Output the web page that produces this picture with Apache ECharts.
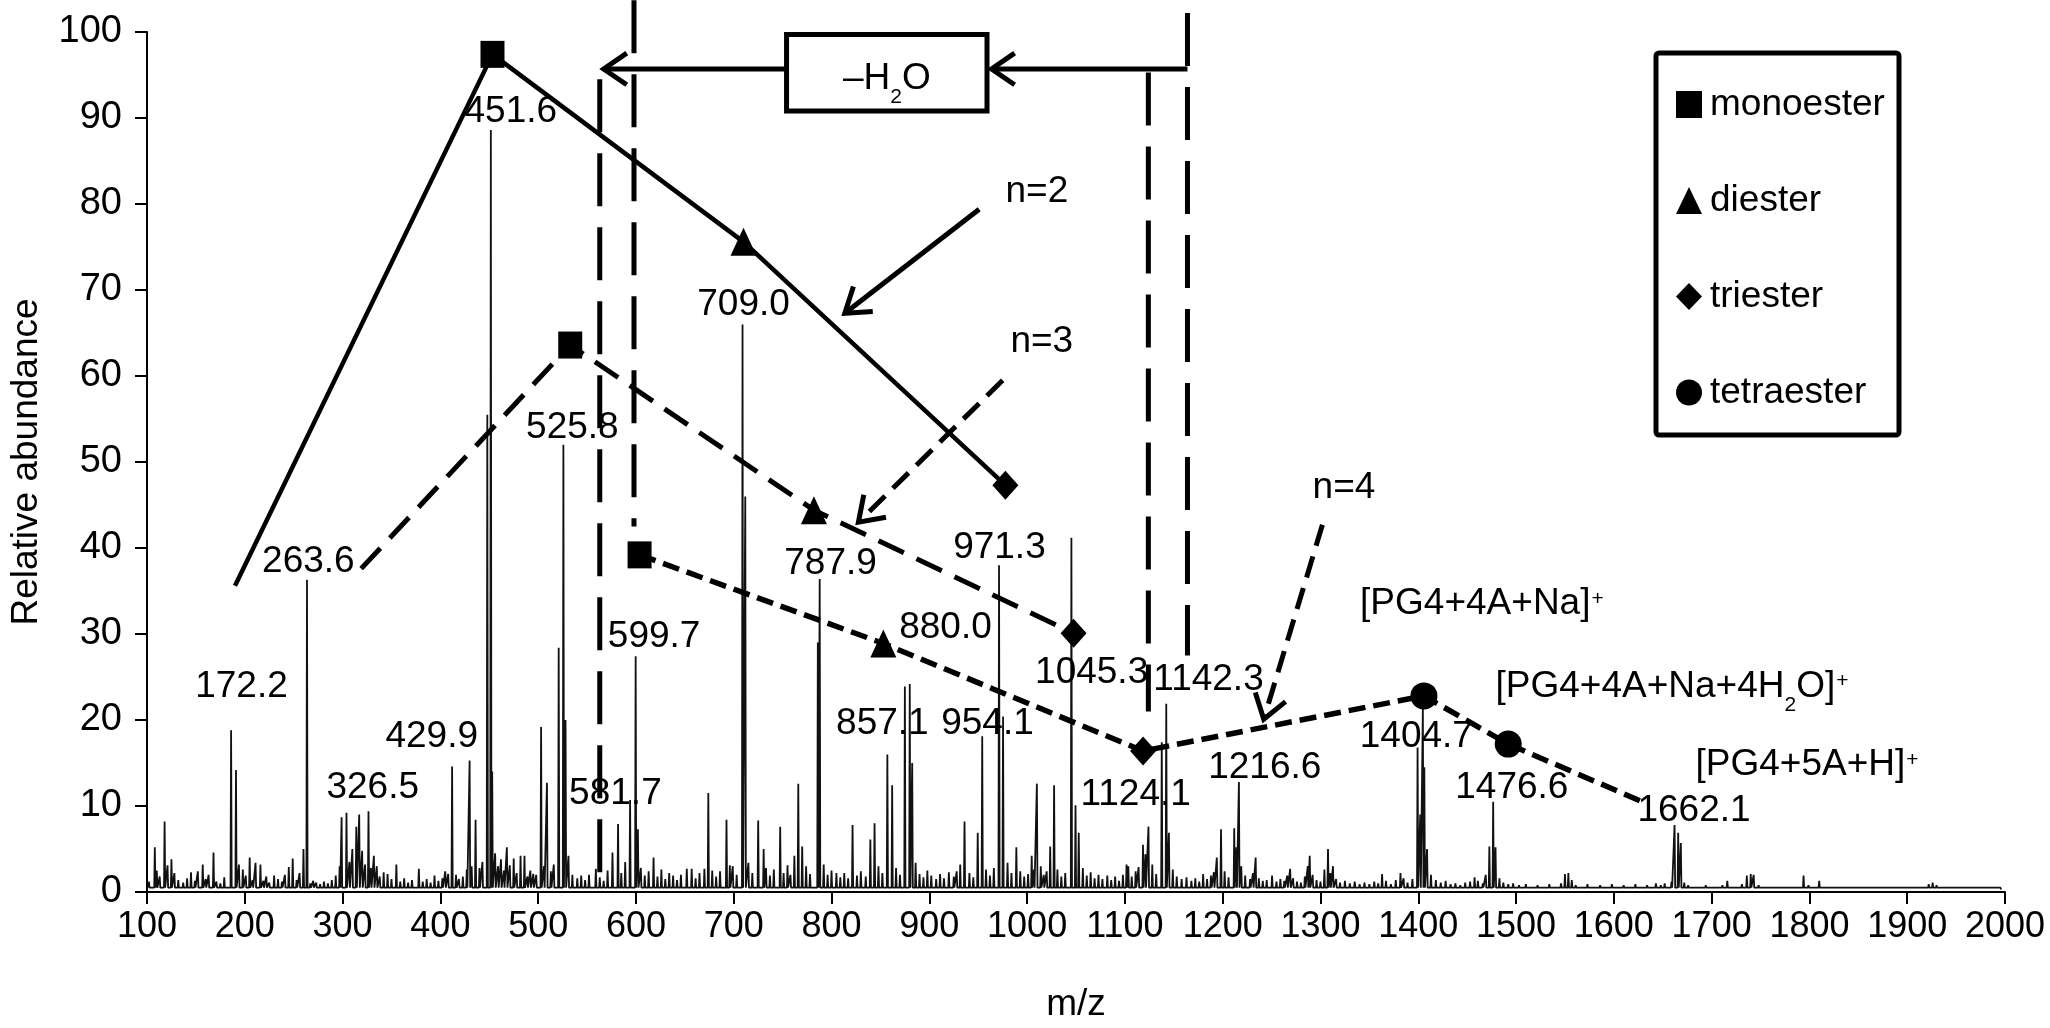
<!DOCTYPE html>
<html><head><meta charset="utf-8">
<script src="https://cdn.jsdelivr.net/npm/echarts@6/dist/echarts.min.js"></script>
<style>html,body{margin:0;padding:0;background:#fff}#c{width:2050px;height:1028px}</style>
</head><body><div id="c"></div><script>
const FONT = '"Liberation Sans", Arial, Helvetica, sans-serif';
const INK = '#000';

// major / medium peaks [m/z, relative abundance]
const peaks = [[108,5.2],[118,8.2],[125,3.8],[145,2.3],[157,3.2],[168,4.6],[186,18.8],[191,14.2],[194,3.2],[205,4],[211,3.4],[216,3.2],[230,1.9],[245,2.9],[249,3.9],[260,5],[263.6,36.3],[273,1.1],[297,3],[299,8.7],[304,9.2],[314,7.6],[317,9],[326.5,9.4],[332,4.2],[342,2.3],[355,3.2],[378,2.7],[394,1.9],[408,2.1],[412,14.6],[429.9,15.3],[436,8.4],[448,55.5],[451.6,88.6],[453,14],[462,3.8],[468,5.2],[475,3.9],[482,4.2],[486,4.2],[495,2.1],[503,19.2],[509,12.7],[521,28.4],[525.8,52],[528,20],[559,2.7],[576,4.6],[581.7,7.9],[594,10.7],[599.7,27.4],[602,7.3],[618,4],[634,2.2],[652,2.7],[657,2.7],[670,2.7],[674,11.5],[692.6,8.4],[699,3],[709.0,66],[711.8,46],[725,8.3],[730.6,5],[747.5,7.6],[762,4.2],[766,12.6],[770,5.3],[786,29],[787.9,36.4],[805,2.2],[821.5,7.8],[839.7,6.1],[844,8],[857.1,16],[862,12.4],[875,23.9],[880.0,24.2],[882.5,15],[898,2.5],[920,2.3],[931.6,3.2],[936,8.2],[949.5,6.9],[954.1,18.1],[971.3,38],[975.4,20.4],[989,5.2],[1004.7,4.2],[1010,12.6],[1023.6,5.3],[1027.6,12.4],[1045.3,41.2],[1049.5,10.1],[1052.8,6.9],[1101.7,3.2],[1103.5,3],[1118.5,5.5],[1124.1,7.6],[1137.7,17.4],[1142.3,21.9],[1145,6.9],[1180,2.1],[1194,4],[1198.3,7.3],[1211.8,7.4],[1216.6,12.8],[1233.7,4],[1250.5,1.9],[1269,2.7],[1287,3],[1289,4.2],[1307.7,5],[1312.8,3],[1363,2.1],[1381.8,2.2],[1399.3,16.8],[1404.7,21.4],[1406.2,14.5],[1457.6,1.7],[1472.7,5.3],[1476.6,10.5],[1479,5.2],[1550,2.1],[1553.5,2.2],[1643,1],[1662.1,7.8],[1665.8,6.9],[1668.5,5.7],[1716,1.3],[1736,1.9],[1740,2.1],[1743,2],[1794,1.9],[1810,1.3],[1926,1.1]];

// small background peaks [m/z, relative abundance]
const noise = [[102,1.2],[110,2.5],[113,1.8],[121,3.1],[128,2.2],[132,1.4],[137,1.1],[141,1.6],[149,1.3],[152,2.4],[160,1.5],[163,2.0],[171,1.2],[175,1.0],[179,1.7],[198,2.6],[201,1.9],[208,1.4],[219,1.3],[222,1.8],[225,1.1],[234,1.5],[238,1.2],[241,2.0],[253,1.4],[256,2.2],[267,1.0],[270,1.3],[277,0.9],[281,1.2],[285,1.0],[289,1.4],[293,1.9],
[307,3.5],[310,5.0],[320,4.8],[323,3.2],[329,2.8],[335,3.0],[338,1.8],[346,2.1],[350,1.5],[359,1.2],[363,1.6],[367,1.1],[371,1.4],[382,1.2],[386,1.5],[390,1.1],[398,1.3],[402,1.6],[405,2.4],[416,2.0],[419,1.5],[423,1.8],[427,2.6],[432,3.0],[440,2.8],[443,3.5],[456,4.5],[459,3.0],[465,2.5],[471,3.1],[478,2.2],[489,1.8],[492,2.5],[498,2.0],[506,3.0],[513,2.4],[516,3.2],
[531,4.2],[535,2.0],[540,1.6],[544,1.9],[548,1.4],[552,2.0],[563,1.7],[567,1.3],[571,2.5],[585,2.2],[589,3.5],[605,2.8],[609,1.9],[613,2.4],[622,1.8],[626,2.6],[630,1.5],[638,1.9],[642,1.4],[646,2.0],[661,1.6],[665,2.2],[678,2.5],[682,1.8],[686,2.4],[696,3.1],[703,2.0],[715,3.4],[719,2.2],
[733,2.8],[737,1.9],[741,2.6],[751,2.2],[755,3.1],[758,2.0],[774,3.0],[778,2.1],[792,3.2],[796,2.0],[800,2.5],[809,1.7],[813,2.2],[817,1.6],[826,1.9],[830,2.4],[835,1.8],[848,3.0],[852,2.2],[866,2.8],[870,2.0],[886,3.4],[890,2.1],[894,1.7],[902,1.9],[907,1.5],[911,2.1],[915,1.6],[925,1.8],[928,2.4],[941,2.2],[945,1.7],[958,2.6],[962,1.9],[966,2.8],[980,3.4],[984,2.2],[993,2.4],[997,1.8],
[1001,2.1],[1007,2.6],[1014,3.0],[1017,2.0],[1020,2.4],[1031,2.6],[1035,1.8],[1039,2.2],[1057,2.8],[1061,1.9],[1065,2.3],[1069,1.6],[1073,2.0],[1077,1.5],[1082,1.9],[1086,1.4],[1090,1.8],[1094,1.3],[1098,2.0],[1107,1.8],[1111,2.4],[1114,2.9],[1121,4.4],[1128,3.2],[1132,2.1],[1149,2.6],[1153,1.8],[1158,1.5],[1163,1.7],[1168,1.3],[1172,1.6],[1176,1.2],[1184,1.5],[1188,1.9],[1191,2.3],[1202,2.4],[1206,1.7],[1214,5.2],[1219,3.0],[1223,1.9],
[1228,1.5],[1231,2.2],[1237,1.6],[1241,1.3],[1245,1.4],[1255,1.2],[1259,1.5],[1263,1.3],[1266,1.9],[1272,1.6],[1276,1.2],[1280,1.1],[1284,1.8],[1292,2.0],[1296,1.4],[1300,1.2],[1304,2.6],[1310,2.2],[1316,1.5],[1320,1.1],[1325,1.3],[1330,1.0],[1335,1.2],[1340,0.9],[1345,1.1],[1350,0.9],[1355,1.2],[1359,1.0],[1367,1.3],[1372,0.9],[1377,1.4],[1385,1.6],[1389,1.1],[1394,1.5],[1402,9.0],[1409,5.0],[1413,2.0],[1418,1.4],[1423,1.1],[1428,1.3],[1433,0.9],[1438,1.0],[1443,0.8],[1448,1.1],[1453,1.2],[1461,1.3],[1466,1.0],[1469,2.0],[1483,1.6],[1487,1.1],[1492,0.9],[1497,1.0],
[1503,0.8],[1510,0.9],[1516,0.7],[1522,0.8],[1528,0.6],[1534,0.9],[1540,0.7],[1546,1.0],[1557,1.4],[1561,0.8],[1567,0.7],[1573,0.9],[1580,0.6],[1586,0.8],[1592,0.7],[1598,0.9],[1604,0.6],[1610,0.8],[1616,0.7],[1622,0.9],[1628,0.6],[1634,0.8],[1638,0.7],[1648,0.8],[1652,1.0],[1656,0.7],[1659,1.2],[1672,1.1],[1676,0.8],[1682,0.7],[1688,0.6],[1694,0.8],[1700,0.7],[1706,0.6],[1711,0.8],[1721,0.6],[1726,0.7],[1731,0.9],[1748,0.8],[1754,0.6],[1760,0.7],[1766,0.5],[1772,0.7],[1778,0.6],[1784,0.5],[1790,0.7],[1799,0.8],[1804,0.6],[1816,0.7],[1822,0.5],[1828,0.6],[1834,0.5],[1840,0.6],[1846,0.4],[1852,0.5],[1858,0.6],[1864,0.4],[1870,0.5],[1876,0.4],[1882,0.5],[1888,0.4],[1894,0.5],[1900,0.4],[1906,0.5],[1912,0.4],[1918,0.6],[1922,0.9],[1930,0.8],[1936,0.5],[1942,0.4],[1948,0.5],[1954,0.4],[1960,0.3],[1966,0.4],[1972,0.3],[1978,0.4],[1984,0.3],[1990,0.3],[1996,0.3]];

// ester series markers [m/z, y]
const monoester = [[453.3,97.4],[532.8,63.6],[603.7,39.2]];
const diester = [[710,75.6],[782,44.4],[853,28.9]];
const triester = [[977.8,47.3],[1047.5,30.1],[1118.6,16.4]];
const tetraester = [[1405.8,22.8],[1492,17.2]];

// connecting traces
const chainN2 = [[190,35.6],[453.3,97.4],[710,75.6],[977.8,47.3]];
const chainN3 = [[319,37.6],[532.8,63.6],[782,44.4],[1047.5,30.1]];
const chainN4 = [[603.7,39.2],[853,28.9],[1118.6,16.4],[1405.8,22.8],[1492,17.2],[1627,10.6]];

// vertical dashed guides [[m/z, top], [m/z, bottom]]
const vGuides = [[[563,94.5],[563,0]],[[598,103.7],[598,42.5]],[[1124,95.3],[1124,21]],[[1164,102.2],[1164,27.5]]];

// arrows [fromX, fromY, toX, toY]
const h2oArrows = [[754,95.7,567,95.7],[1164,95.7,963.6,95.7]];
const h2oBox = [[754,99.7,959,90.8]];
const arrowSolid = [[951,79.4,813.6,67.3]];
const arrowDashed = [[975,59.5,827.5,43],[1302,42.7,1242,20.1]];

// texts
const peakLabelText = ['172.2','263.6','326.5','429.9','451.6','525.8','581.7','599.7','709.0','787.9','857.1','880.0','954.1','971.3','1045.3','1124.1','1142.3','1216.6','1404.7','1476.6','1662.1'];
const peakLabelPos = [[196.6,23.9],[265,38.4],[330.8,12.1],[391.2,18.0],[472,90.7],[535,54],[579,11.4],[618.6,29.7],[710,68.3],[799,38.2],[852,19.6],[916.5,30.7],[959.5,19.6],[971.7,40],[1066,25.5],[1111,11.3],[1185.5,24.7],[1243,14.4],[1398,18.1],[1495.7,12.1],[1682,9.5]];
const noteText = ['n=2','n=3','n=4','{m|\u2013H}{sub|2}{m|O}'];
const notePos = [[1010,81.4],[1015,64],[1324,47],[856.6,94.6]];
const ionText = ['{m|[PG4+4A+Na]}{sup|+}','{m|[PG4+4A+Na+4H}{sub|2}{m|O]}{sup|+}','{m|[PG4+5A+H]}{sup|+}'];
const ionPos = [[1340,33.5],[1478.5,23.9],[1683,14.8]];

const BASE = 0.5;
const spec = peaks.concat(noise).sort((a, b) => a[0] - b[0]);
const specLine = [];
spec.forEach(([m, h]) => { specLine.push([m - 0.6, BASE], [m, h], [m + 0.6, BASE]); });

const rich = {
  m: {fontSize: 37, lineHeight: 37, verticalAlign: 'top', color: INK, fontFamily: FONT},
  sub: {fontSize: 21, lineHeight: 21, verticalAlign: 'top', padding: [27, 0, 0, 0], color: INK, fontFamily: FONT},
  sup: {fontSize: 21, lineHeight: 21, verticalAlign: 'top', padding: [3, 0, 0, 1], color: INK, fontFamily: FONT}
};

function arrowRenderer(dash) {
  return function (params, api) {
    const p1 = api.coord([api.value(0), api.value(1)]);
    const p2 = api.coord([api.value(2), api.value(3)]);
    const dx = p1[0] - p2[0], dy = p1[1] - p2[1];
    const L = Math.hypot(dx, dy), ux = dx / L, uy = dy / L;
    const a = 0.6, len = 28;
    const arm = s => [p2[0] + len * (ux * Math.cos(s * a) - uy * Math.sin(s * a)),
                      p2[1] + len * (ux * Math.sin(s * a) + uy * Math.cos(s * a))];
    return {type: 'group', children: [
      {type: 'line', shape: {x1: p1[0], y1: p1[1], x2: p2[0], y2: p2[1]}, style: {stroke: INK, lineWidth: 5, lineDash: dash, fill: null}},
      {type: 'polyline', shape: {points: [arm(1), p2, arm(-1)]}, style: {stroke: INK, lineWidth: 5, fill: null, lineJoin: 'miter'}}
    ]};
  };
}

function textSeries(pos, texts, position, z) {
  return {
    type: 'scatter', silent: true, z: z, symbolSize: 1, itemStyle: {color: 'rgba(0,0,0,0)', opacity: 1},
    data: pos.map((p, i) => ({value: p, name: texts[i]})),
    label: {show: true, position: position, distance: 0, formatter: p => p.name,
      fontSize: 37, color: INK, opacity: 1, fontFamily: FONT, rich: rich},
    labelLayout: {hideOverlap: false}
  };
}

const markerStyle = {color: INK, opacity: 1};
const series = [];
series.push({type: 'line', data: specLine, showSymbol: false, symbol: 'none', silent: true, z: 1,
  lineStyle: {color: '#111', width: 1.8}});
vGuides.forEach(g => series.push({type: 'line', data: g, symbol: 'none', silent: true, clip: false, z: 3,
  lineStyle: {color: INK, width: 5, type: [53, 21]}}));
series.push({type: 'line', data: chainN2, symbol: 'none', silent: true, z: 3, lineStyle: {color: INK, width: 4.5}});
series.push({type: 'line', data: chainN3, symbol: 'none', silent: true, z: 3, lineStyle: {color: INK, width: 5, type: [28, 14]}});
series.push({type: 'line', data: chainN4, symbol: 'none', silent: true, z: 3, lineStyle: {color: INK, width: 5.5, type: [17, 8]}});
series.push({type: 'custom', silent: true, clip: false, z: 4, data: arrowSolid, encode: {x: [0, 2], y: [1, 3]}, renderItem: arrowRenderer(null)});
series.push({type: 'custom', silent: true, clip: false, z: 4, data: arrowDashed, encode: {x: [0, 2], y: [1, 3]}, renderItem: arrowRenderer([22, 11])});
series.push({type: 'custom', silent: true, clip: false, z: 4, data: h2oArrows, encode: {x: [0, 2], y: [1, 3]}, renderItem: arrowRenderer(null)});
series.push({type: 'custom', silent: true, clip: false, z: 5, data: h2oBox, encode: {x: [0, 2], y: [1, 3]},
  renderItem: function (params, api) {
    const a = api.coord([api.value(0), api.value(1)]), b = api.coord([api.value(2), api.value(3)]);
    return {type: 'rect', shape: {x: Math.min(a[0], b[0]), y: Math.min(a[1], b[1]), width: Math.abs(b[0] - a[0]), height: Math.abs(b[1] - a[1])},
      style: {fill: '#fff', stroke: INK, lineWidth: 5}};
  }});
series.push({name: 'monoester', type: 'scatter', data: monoester, symbol: 'rect', symbolSize: [24, 27], z: 6, itemStyle: markerStyle});
series.push({name: 'diester', type: 'scatter', data: diester, symbol: 'triangle', symbolSize: [26, 28], z: 6, itemStyle: markerStyle});
series.push({name: 'triester', type: 'scatter', data: triester, symbol: 'diamond', symbolSize: [26, 29], z: 6, itemStyle: markerStyle});
series.push({name: 'tetraester', type: 'scatter', data: tetraester, symbol: 'circle', symbolSize: 27, z: 6, itemStyle: markerStyle});
series.push(textSeries(peakLabelPos, peakLabelText, 'inside', 7));
series.push(textSeries(notePos, noteText, 'inside', 7));
series.push(textSeries(ionPos, ionText, 'right', 7));

const chart = echarts.init(document.getElementById('c'), null, {renderer: 'canvas'});
chart.setOption({
  animation: false,
  backgroundColor: '#fff',
  textStyle: {fontFamily: FONT},
  grid: {left: 130, right: 45, top: 32, bottom: 122, containLabel: false},
  xAxis: {
    type: 'value', min: 100, max: 2000, interval: 100,
    name: 'm/z', nameLocation: 'middle', nameGap: 94,
    nameTextStyle: {fontSize: 37, color: INK, fontFamily: FONT},
    axisLine: {lineStyle: {color: INK, width: 2}},
    axisTick: {length: 12, lineStyle: {color: INK, width: 2}},
    axisLabel: {fontSize: 36, color: INK, margin: 17, fontFamily: FONT, formatter: v => String(v)},
    splitLine: {show: false}
  },
  yAxis: {
    type: 'value', min: 0, max: 100, interval: 10,
    name: 'Relative abundance', nameLocation: 'middle', nameGap: 102,
    nameTextStyle: {fontSize: 37, color: INK, fontFamily: FONT},
    axisLine: {show: true, lineStyle: {color: INK, width: 2}},
    axisTick: {show: true, length: 12, lineStyle: {color: INK, width: 2}},
    axisLabel: {fontSize: 38, color: INK, margin: 25, fontFamily: FONT, formatter: v => String(v)},
    splitLine: {show: false}
  },
  legend: {
    orient: 'vertical', left: 1671, top: 81, itemGap: 59, itemWidth: 26, itemHeight: 27,
    data: [{name: 'monoester', icon: 'rect'}, {name: 'diester', icon: 'triangle'}, {name: 'triester', icon: 'diamond'}, {name: 'tetraester', icon: 'circle'}],
    textStyle: {fontSize: 37, lineHeight: 37, color: INK, fontFamily: FONT, padding: [0, 0, 0, 3]},
    itemStyle: {color: INK, opacity: 1}
  },
  graphic: [{type: 'rect', silent: true, z: 10, shape: {x: 1656, y: 53, width: 243, height: 382, r: 3},
    style: {fill: 'transparent', stroke: INK, lineWidth: 5}}],
  series: series
});
</script></body></html>
